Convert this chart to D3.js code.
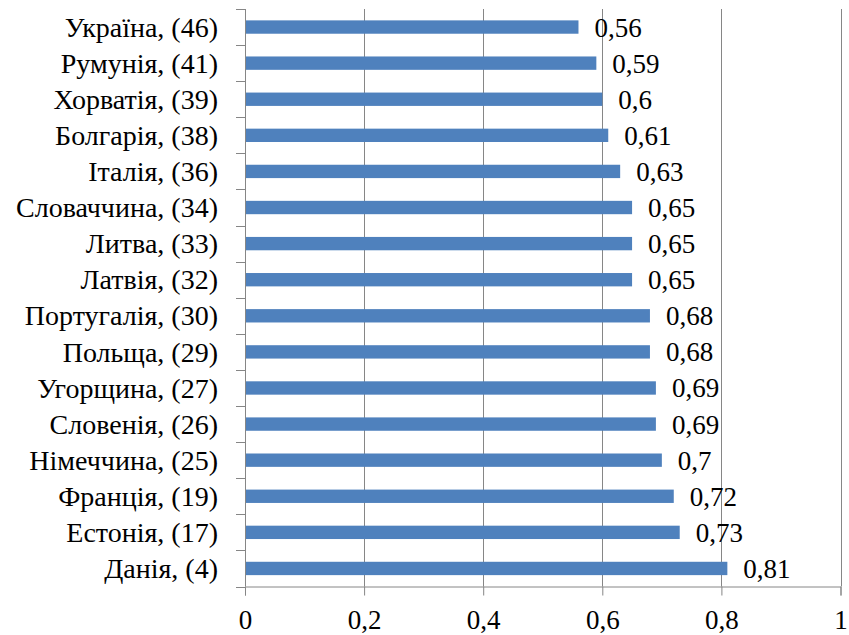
<!DOCTYPE html>
<html>
<head>
<meta charset="utf-8">
<script src="https://cdn.jsdelivr.net/npm/d3@7"></script>
<style>
  body { margin: 0; background: #fff; }
</style>
</head>
<body>
<div id="plotDiv"></div>
<script>
var countries = ["Україна", "Румунія", "Хорватія", "Болгарія", "Італія", "Словаччина",
                 "Литва", "Латвія", "Португалія", "Польща", "Угорщина", "Словенія",
                 "Німеччина", "Франція", "Естонія", "Данія"];
var ranks = [46, 41, 39, 38, 36, 34, 33, 32, 30, 29, 27, 26, 25, 19, 17, 4];
var values = [0.56, 0.59, 0.6, 0.61, 0.63, 0.65, 0.65, 0.65, 0.68, 0.68, 0.69, 0.69, 0.7, 0.72, 0.73, 0.81];
var xTicks = [0, 0.2, 0.4, 0.6, 0.8, 1];

var widthSVG = 849, heightSVG = 635;
var margin = {top: 9, right: 9, bottom: 48, left: 245};
var serif = "'Liberation Serif', Tinos, 'Times New Roman', 'DejaVu Serif', serif";

var labels = countries.map(function(c, i) { return c + ", (" + ranks[i] + ")"; });
var fmt = function(v) { return String(v).replace(".", ","); };

var svg = d3.select("#plotDiv")
    .append("svg")
    .attr("width", widthSVG)
    .attr("height", heightSVG)
    .style("font-family", serif);

var x = d3.scaleLinear()
    .domain([0, 1])
    .range([margin.left, 840.5]);

var y = d3.scaleBand()
    .domain(labels)
    .range([margin.top, 586.5])
    .paddingInner(0.63)
    .paddingOuter(0.315);

var yTickPos = d3.range(labels.length + 1).map(function(i) {
    return margin.top + i * y.step();
});

// vertical gridlines
svg.append("g")
    .selectAll("line")
    .data(xTicks.slice(1))
    .enter()
    .append("line")
      .attr("x1", function(d) { return Math.round(x(d)) + 0.5; })
      .attr("x2", function(d) { return Math.round(x(d)) + 0.5; })
      .attr("y1", margin.top)
      .attr("y2", 586.5)
      .attr("stroke", "#868686")
      .attr("stroke-width", 1);

// bars
svg.append("g")
    .selectAll("rect")
    .data(values)
    .enter()
    .append("rect")
      .attr("x", x(0))
      .attr("y", function(d, i) { return y(labels[i]); })
      .attr("width", function(d) { return x(d) - x(0); })
      .attr("height", y.bandwidth())
      .attr("fill", "#4f81bd");

// value labels
svg.append("g")
    .selectAll("text")
    .data(values)
    .enter()
    .append("text")
      .attr("x", function(d) { return x(d) + 16; })
      .attr("y", function(d, i) { return y(labels[i]) + y.bandwidth() / 2 + 9.5; })
      .style("font-family", serif)
      .attr("font-size", 27)
      .text(function(d) { return fmt(d); });

// left axis
var yAxis = svg.append("g");
yAxis.append("line")
    .attr("x1", 245.5).attr("x2", 245.5)
    .attr("y1", margin.top).attr("y2", 586.5)
    .attr("stroke", "#868686");
yAxis.selectAll(".tk")
    .data(yTickPos)
    .enter()
    .append("line")
      .attr("x1", 236).attr("x2", 245.5)
      .attr("y1", function(d) { return Math.round(d) + 0.5; })
      .attr("y2", function(d) { return Math.round(d) + 0.5; })
      .attr("stroke", "#868686");
yAxis.selectAll("text")
    .data(labels)
    .enter()
    .append("text")
      .attr("x", 218)
      .attr("y", function(d) { return y(d) + y.bandwidth() / 2 + 9.7; })
      .attr("text-anchor", "end")
      .style("font-family", serif)
      .attr("font-size", 28)
      .text(function(d) { return d; });

// bottom axis
var xAxis = svg.append("g")
    .attr("transform", "translate(0,586.5)")
    .call(d3.axisBottom(x).tickValues(xTicks).tickSize(9).tickPadding(14)
        .tickFormat(function(d) { return fmt(d); }));
xAxis.attr("font-family", null).attr("font-size", null);
xAxis.select(".domain").attr("stroke", "#868686");
xAxis.selectAll(".tick line").attr("stroke", "#868686");
xAxis.selectAll(".tick text")
    .attr("fill", "#000")
    .style("font-family", serif)
    .attr("font-size", 27);
</script>
</body>
</html>
